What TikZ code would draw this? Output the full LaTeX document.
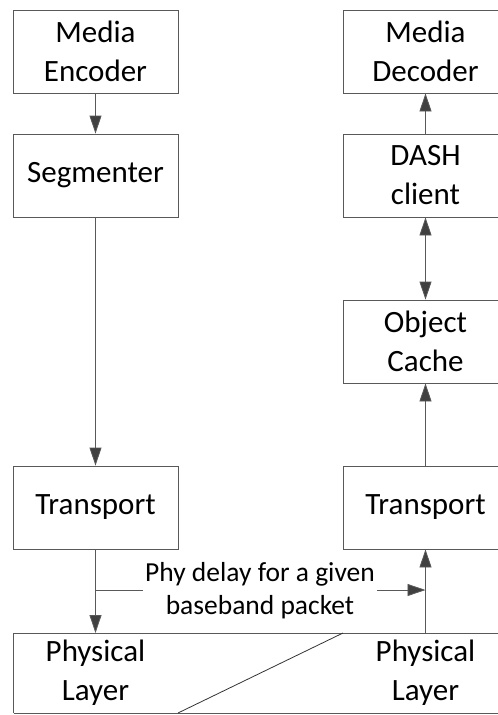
\documentclass[tikz,border=0pt]{standalone}
\usepackage{fontspec}
\setmainfont{Carlito}
\usetikzlibrary{arrows.meta}
\begin{document}
\begin{tikzpicture}[x=1pt,y=-1pt,
  blk/.style={draw=black!65, line width=0.8pt, minimum width=165pt, minimum height=83pt, inner sep=0pt, align=center, font=\fontsize{31}{39}\selectfont},
  conn/.style={draw=black!65, line width=0.8pt, -{Triangle[length=18pt,width=12pt,fill=black!75]}},
  lbl/.style={fill=white, inner sep=2pt, align=center, font=\fontsize{27.5}{33}\selectfont}]
\useasboundingbox (0,0) rectangle (498,715);
\clip (0,0) rectangle (498,715);
% left column
\node[blk] (enc) at (95.5,51.5) {Media\\Encoder};
\node[blk] (seg) at (95.5,175.5) {Segmenter};
\node[blk] (tl) at (95.5,507.5) {Transport};
% right column
\node[blk] (dec) at (425.5,51.5) {Media\\Decoder};
\node[blk] (dash) at (425.5,175.5) {DASH\\client};
\node[blk] (cache) at (425.5,341.5) {Object\\Cache};
\node[blk] (tr) at (425.5,507.5) {Transport};
% physical layer
\coordinate (pa) at (13.5,633);
\coordinate (pb) at (343,633);
\coordinate (pc) at (178,713);
\coordinate (pd) at (13.5,713);
\draw[draw=black!65, line width=0.8pt] (pd) -- (pa) -- (510,633);
\draw[draw=black!65, line width=0.8pt] (pd) -- (510,713);
\draw[draw=black!80, line width=0.8pt] (pb) -- (pc);
\node[font=\fontsize{31}{39}\selectfont, align=center] (pl) at (95.5,673) {Physical\\Layer};
\node[font=\fontsize{31}{39}\selectfont, align=center] (pr) at (425.5,673) {Physical\\Layer};
% connectors
\draw[conn] (enc) -- (seg);
\draw[conn] (seg) -- (tl);
\draw[conn] (dash) -- (dec);
\draw[conn, {Triangle[length=18pt,width=12pt,fill=black!75]}-{Triangle[length=18pt,width=12pt,fill=black!75]}] (dash) -- (cache);
\draw[conn] (tr) -- (cache);
\coordinate (prt) at (425.5,633);
\coordinate (plt) at (95.5,633);
\draw[conn] (prt) -- (tr);
\draw[conn] (tl) -- (plt);
\coordinate (hs) at (95.5,590);
\coordinate (he) at (425.5,590);
\draw[conn] (hs) -- (he);
\node[lbl] (lab) at (260,591) {Phy delay for a given\\baseband packet};
\end{tikzpicture}
\end{document}
